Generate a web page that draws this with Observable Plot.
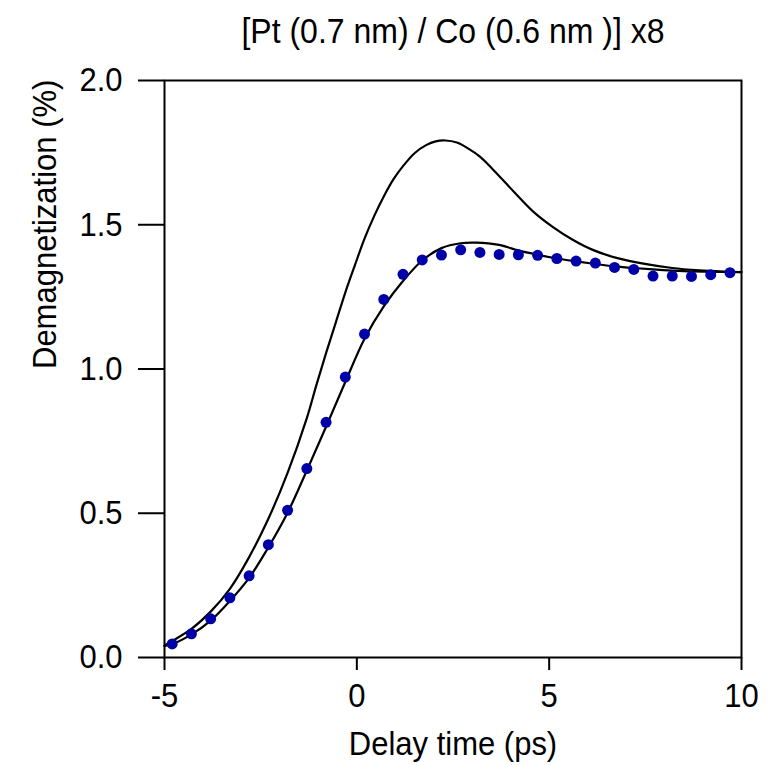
<!DOCTYPE html>
<html>
<head>
<meta charset="utf-8">
<script src="https://cdn.jsdelivr.net/npm/d3@7"></script>
<script src="https://cdn.jsdelivr.net/npm/@observablehq/plot@0.6"></script>
<style>
  html, body { margin: 0; padding: 0; background: white; }
</style>
</head>
<body>
<div id="chart"></div>
<script>
const titleText = "[Pt (0.7 nm) / Co (0.6 nm )] x8";
const xLabel = "Delay time (ps)";
const yLabel = "Demagnetization (%)";
const xTicks = [-5, 0, 5, 10];
const yTicks = [0, 0.5, 1.0, 1.5, 2.0];

// measured points
const dotTime = [-4.8, -4.3, -3.8, -3.3, -2.8, -2.3, -1.8, -1.3, -0.8, -0.3,
  0.2, 0.7, 1.2, 1.7, 2.2, 2.7, 3.2, 3.7, 4.2, 4.7,
  5.2, 5.7, 6.2, 6.7, 7.2, 7.7, 8.2, 8.7, 9.2, 9.7];
const dotValue = [0.047, 0.082, 0.134, 0.207, 0.283, 0.391, 0.510, 0.655, 0.815, 0.972,
  1.121, 1.241, 1.328, 1.378, 1.395, 1.413, 1.404, 1.397, 1.396, 1.394,
  1.383, 1.374, 1.367, 1.352, 1.345, 1.322, 1.322, 1.321, 1.327, 1.334];

// upper (model) curve
const upperTime = [-5.0, -4.8, -4.3, -3.8, -3.3, -2.8, -2.3, -1.8, -1.3, -1.05, -0.8, -0.55, -0.3, -0.05,
  0.2, 0.45, 0.7, 0.95, 1.2, 1.5, 1.8, 2.05, 2.3, 2.6, 2.9, 3.2, 3.55, 4.1, 4.6, 5.1, 5.6, 6.15,
  6.75, 7.45, 8.2, 8.9, 9.5, 10.0];
const upperValue = [0.042, 0.057, 0.099, 0.159, 0.238, 0.348, 0.481, 0.640, 0.830, 0.945, 1.055, 1.160, 1.265, 1.360,
  1.452, 1.530, 1.598, 1.657, 1.703, 1.748, 1.776, 1.789, 1.792, 1.785, 1.764, 1.736, 1.690, 1.612, 1.544, 1.492, 1.449, 1.412,
  1.385, 1.365, 1.350, 1.342, 1.338, 1.336];

// fit curve
const fitTime = [-5.0, -4.8, -4.3, -3.8, -3.3, -2.8, -2.3, -1.8, -1.3, -0.8, -0.3,
  0.2, 0.7, 1.2, 1.7, 2.2, 2.7, 3.1, 3.7, 4.2, 4.7, 5.2, 5.7, 6.2, 6.7, 7.2, 7.7,
  8.2, 8.75, 9.3, 10.0];
const fitValue = [0.040, 0.046, 0.080, 0.128, 0.196, 0.276, 0.382, 0.502, 0.648, 0.800, 0.955,
  1.105, 1.217, 1.305, 1.376, 1.419, 1.436, 1.438, 1.430, 1.411, 1.396, 1.383, 1.373, 1.364, 1.356, 1.350, 1.345,
  1.341, 1.338, 1.337, 1.336];

const dots = dotTime.map((t, i) => ({t, v: dotValue[i]}));
const upper = upperTime.map((t, i) => ({t, v: upperValue[i]}));
const fit = fitTime.map((t, i) => ({t, v: fitValue[i]}));

const chart = Plot.plot({
  width: 778,
  height: 765,
  marginTop: 80,
  marginLeft: 164,
  marginRight: 37,
  marginBottom: 108,
  style: {fontFamily: "'Liberation Sans', Arial, sans-serif", fontSize: "31px", color: "black", background: "white"},
  x: {domain: [-5, 10]},
  y: {domain: [0, 2]},
  marks: [
    Plot.frame({stroke: "black", strokeWidth: 2}),
    Plot.axisX({ticks: xTicks, tickSize: 13, tickPadding: 13, tickFormat: d => String(d), label: null, strokeWidth: 2}),
    Plot.axisY({ticks: yTicks, tickSize: 26, tickPadding: 16, tickFormat: d => d.toFixed(1), label: null, strokeWidth: 2}),
    Plot.line(upper, {x: "t", y: "v", stroke: "black", strokeWidth: 2.2, curve: "catmull-rom"}),
    Plot.line(fit, {x: "t", y: "v", stroke: "black", strokeWidth: 2.2, curve: "catmull-rom"}),
    Plot.dot(dots, {x: "t", y: "v", r: 5.5, fill: "#0000a8", stroke: "none"}),
    Plot.text([titleText], {frameAnchor: "top", lineAnchor: "middle", dy: -49, fontSize: 32}),
    Plot.text([xLabel], {frameAnchor: "bottom", lineAnchor: "middle", dy: 87, fontSize: 31}),
    Plot.text([yLabel], {frameAnchor: "left", lineAnchor: "middle", dx: -119, rotate: -90, fontSize: 31})
  ]
});
document.getElementById("chart").appendChild(chart);

// The reference glyphs are slightly taller than Arial proportions: stretch text vertically about its own centre
const stretch = 1.1;
d3.select(chart).selectAll("text").each(function() {
  const b = this.getBBox();
  const cy = b.y + b.height / 2;
  const t = this.getAttribute("transform") || "";
  this.setAttribute("transform", `${t} translate(0,${cy}) scale(1,${stretch}) translate(0,${-cy})`);
});
</script>
</body>
</html>
